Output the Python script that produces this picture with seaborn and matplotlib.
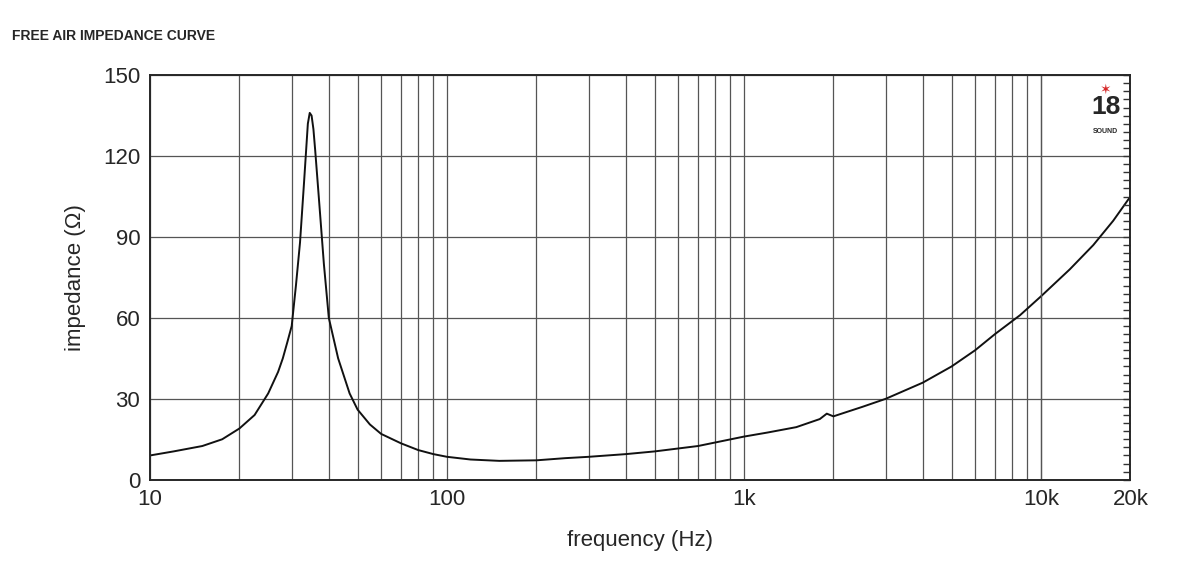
import numpy as np
import matplotlib
matplotlib.use("Agg")
import matplotlib.pyplot as plt
import seaborn as sns
import pandas as pd
from matplotlib.ticker import FixedLocator, MultipleLocator

freq = [10, 12, 15, 17.5, 20, 22.5, 25, 27, 28, 29, 30, 31, 32, 33, 34, 34.5, 35, 35.5, 36, 37, 38.5, 40, 43, 47, 50, 55, 60, 70, 80, 90, 100, 120, 150, 200, 250, 300, 400, 500, 700, 1000, 1200, 1500, 1800, 1900, 2000, 2200, 2500, 3000, 4000, 5000, 6000, 7000, 8500, 10000, 12500, 15000, 17500, 20000]
imp = [9, 10.5, 12.5, 15, 19, 24, 32, 40, 45, 51, 57, 72, 88, 110, 132, 136, 135, 130, 122, 105, 80, 60, 45, 32, 26, 20.5, 17, 13.5, 11, 9.5, 8.5, 7.5, 7, 7.2, 8, 8.5, 9.5, 10.5, 12.5, 16, 17.5, 19.5, 22.5, 24.5, 23.5, 25, 27, 30, 36, 42, 48, 54, 61, 68, 78, 87, 96, 105]

sns.set_theme(style="white")
plt.rcParams['font.family'] = ['Liberation Sans', 'DejaVu Sans']
fig = plt.figure(figsize=(12, 5.78), dpi=100)
ax = fig.add_axes([0.125, 0.17, 0.817, 0.70])
df = pd.DataFrame({"f": freq, "z": imp})
sns.lineplot(data=df, x="f", y="z", ax=ax, color="#111111", lw=1.4)
ax.set_xscale("log")
ax.set_xlim(10, 20000)
ax.set_ylim(0, 150)
ax.set_yticks([0, 30, 60, 90, 120, 150])
ax.set_xticks([10, 100, 1000, 10000, 20000])
ax.set_xticklabels(["10", "100", "1k", "10k", "20k"])
minors = [m * d for d in [10, 100, 1000] for m in range(2, 10)]
ax.xaxis.set_minor_locator(FixedLocator(minors))
ax.xaxis.set_minor_formatter(plt.NullFormatter())
ax.grid(True, which="both", axis="x", color="#555555", lw=0.9)
ax.grid(True, which="major", axis="y", color="#555555", lw=0.9)
ax.axvline(10000, color="#555555", lw=0.9)
ax.tick_params(axis="both", which="major", labelsize=16, length=0, pad=7)
ax.tick_params(axis="x", which="minor", length=0)
for s in ax.spines.values():
    s.set_color("#333333"); s.set_linewidth(1.2)
ax.set_xlabel("frequency (Hz)", fontsize=16, labelpad=14)
ax.set_ylabel("impedance (Ω)", fontsize=16, labelpad=12)
ax2 = ax.twinx()
ax2.set_ylim(0, 150)
ax2.yaxis.set_minor_locator(MultipleLocator(3))
ax2.set_yticks([])
ax2.tick_params(axis="y", which="minor", direction="in", length=5, color="#333333")
fig.text(0.01, 0.93, "FREE AIR IMPEDANCE CURVE", fontsize=10, fontweight="bold")
ax.text(0.975, 0.98, "✶", transform=ax.transAxes, color="#d62728", fontsize=10, ha="center", va="top")
ax.text(0.975, 0.95, "18", transform=ax.transAxes, fontsize=19, fontweight="bold", ha="center", va="top", fontstretch="condensed")
ax.text(0.975, 0.87, "SOUND", transform=ax.transAxes, fontsize=5, fontweight="bold", ha="center", va="top")
fig.savefig("out.png", dpi=100)
